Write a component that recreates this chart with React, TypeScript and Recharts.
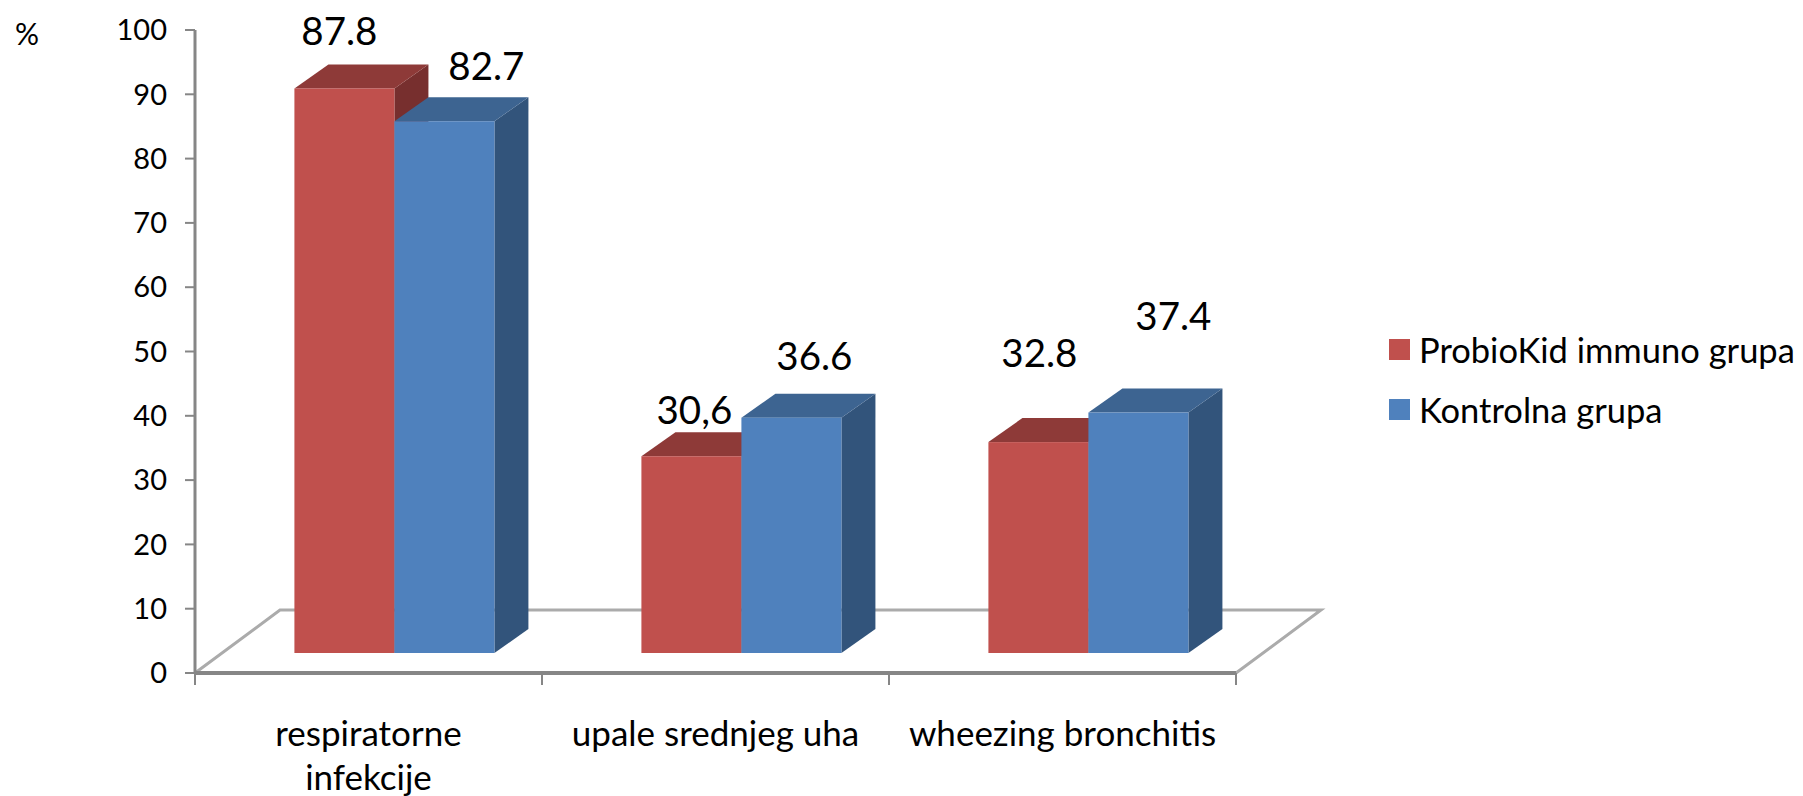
import { Bar, BarChart, LabelList, Legend, XAxis, YAxis } from "recharts";

const categories = ["respiratorne\ninfekcije", "upale srednjeg uha", "wheezing bronchitis"];
const probioValues = [87.8, 30.6, 32.8];
const kontrolnaValues = [82.7, 36.6, 37.4];
// the source mixes "." and "," in its labels
const probioLabels = ["87.8", "30,6", "32.8"];
const kontrolnaLabels = ["82.7", "36.6", "37.4"];
const yTicks = [0, 10, 20, 30, 40, 50, 60, 70, 80, 90, 100];

const chartData = categories.map((name, i) => ({
  name,
  probio: probioValues[i],
  kontrolna: kontrolnaValues[i],
}));

const WIDTH = 1803;
const HEIGHT = 796;
const PLOT_LEFT = 195;
const PLOT_RIGHT = 1236;
const PLOT_TOP = 30;
const PLOT_BOTTOM = 673;
const BAND = (PLOT_RIGHT - PLOT_LEFT) / categories.length;

// fake 3D: bars stand on the floor, behind the axis line
const SHIFT_X = 25.5;
const SHIFT_Y = -20;
const DEPTH_X = 34;
const DEPTH_Y = -24;
const FLOOR_X = 85;
const FLOOR_Y = -63;

const FONT = "Lato, sans-serif";
const AXIS_COLOR = "#868686";

// label offsets from the top middle of each bar front
const probioNudge = [[-5, -58], [3, -47], [1, -90]];
const kontrolnaNudge = [[42, -56], [23, -63], [35, -98]];

function Bar3D({ x, y, width, height, fill, topFill, sideFill }: any) {
  const l = x + SHIFT_X;
  const r = l + width;
  const t = y + SHIFT_Y;
  const b = t + height;
  return (
    <g>
      <polygon
        points={`${r},${t} ${r + DEPTH_X},${t + DEPTH_Y} ${r + DEPTH_X},${b + DEPTH_Y} ${r},${b}`}
        fill={sideFill}
      />
      <polygon
        points={`${l},${t} ${l + DEPTH_X},${t + DEPTH_Y} ${r + DEPTH_X},${t + DEPTH_Y} ${r},${t}`}
        fill={topFill}
      />
      <rect x={l} y={t} width={width} height={height} fill={fill} />
    </g>
  );
}

function valueLabel(labels: string[], nudge: number[][]) {
  return ({ x, y, width, index }: any) => (
    <text
      x={x + SHIFT_X + width / 2 + nudge[index][0]}
      y={y + SHIFT_Y + nudge[index][1]}
      textAnchor="middle"
      dominantBaseline="central"
      fontSize={38.5}
      fontFamily={FONT}
      fill="#000"
    >
      {labels[index]}
    </text>
  );
}

function CategoryTick({ x, payload }: any) {
  const lines = String(payload.value).split("\n");
  return (
    <g>
      {[x - BAND / 2, x + BAND / 2].map((tx) => (
        <line key={tx} x1={tx} x2={tx} y1={PLOT_BOTTOM} y2={PLOT_BOTTOM + 12} stroke={AXIS_COLOR} strokeWidth={2} />
      ))}
      {lines.map((line, i) => (
        <text
          key={line}
          x={x}
          y={PLOT_BOTTOM + 59 + i * 44}
          textAnchor="middle"
          dominantBaseline="central"
          fontSize={35}
          fontFamily={FONT}
          fill="#000"
        >
          {line}
        </text>
      ))}
    </g>
  );
}

function LegendBox({ payload }: any) {
  return (
    <div style={{ fontFamily: FONT, fontSize: 34.5, color: "#000" }}>
      {(payload || []).map((item: any) => (
        <div key={item.value} style={{ display: "flex", alignItems: "center", height: 60, whiteSpace: "nowrap" }}>
          <span style={{ width: 21, height: 21, background: item.color, marginRight: 9, flex: "none" }} />
          {item.value}
        </div>
      ))}
    </div>
  );
}

export default function App() {
  return (
    <div style={{ position: "absolute", left: 0, top: 0, width: WIDTH, height: HEIGHT, overflow: "hidden", background: "#fff" }}>
      <BarChart
        width={WIDTH}
        height={HEIGHT}
        data={chartData}
        margin={{ top: PLOT_TOP, right: WIDTH - PLOT_RIGHT, bottom: 0, left: 0 }}
        barCategoryGap="21.3%"
        barGap={0}
      >
        <polyline
          points={`${PLOT_LEFT},${PLOT_BOTTOM} ${PLOT_LEFT + FLOOR_X},${PLOT_BOTTOM + FLOOR_Y} ${PLOT_RIGHT + FLOOR_X},${PLOT_BOTTOM + FLOOR_Y} ${PLOT_RIGHT},${PLOT_BOTTOM}`}
          fill="#fff"
          stroke="#ababab"
          strokeWidth={3}
        />
        <text x={27} y={33} textAnchor="middle" dominantBaseline="central" fontSize={30} fontFamily={FONT} fill="#000">
          %
        </text>
        <XAxis
          dataKey="name"
          height={HEIGHT - PLOT_BOTTOM}
          interval={0}
          tickLine={false}
          axisLine={{ stroke: AXIS_COLOR, strokeWidth: 4 }}
          tick={<CategoryTick />}
        />
        <YAxis
          width={PLOT_LEFT}
          domain={[0, 100]}
          ticks={yTicks}
          interval={0}
          tickSize={10}
          tickMargin={18}
          axisLine={{ stroke: AXIS_COLOR, strokeWidth: 3 }}
          tickLine={{ stroke: AXIS_COLOR, strokeWidth: 2 }}
          tick={{ fill: "#000", fontSize: 29, fontFamily: FONT }}
        />
        <Legend
          layout="vertical"
          align="center"
          verticalAlign="middle"
          itemSorter={null}
          wrapperStyle={{ left: 1389, top: 319, width: 410 }}
          content={<LegendBox />}
        />
        <Bar
          dataKey="probio"
          name="ProbioKid immuno grupa"
          fill="#C0504D"
          isAnimationActive={false}
          shape={(props: any) => <Bar3D {...props} topFill="#8E3A38" sideFill="#772F2E" />}
        >
          <LabelList content={valueLabel(probioLabels, probioNudge)} />
        </Bar>
        <Bar
          dataKey="kontrolna"
          name="Kontrolna grupa"
          fill="#4F81BD"
          isAnimationActive={false}
          shape={(props: any) => <Bar3D {...props} topFill="#3D6491" sideFill="#32547B" />}
        >
          <LabelList content={valueLabel(kontrolnaLabels, kontrolnaNudge)} />
        </Bar>
      </BarChart>
    </div>
  );
}
